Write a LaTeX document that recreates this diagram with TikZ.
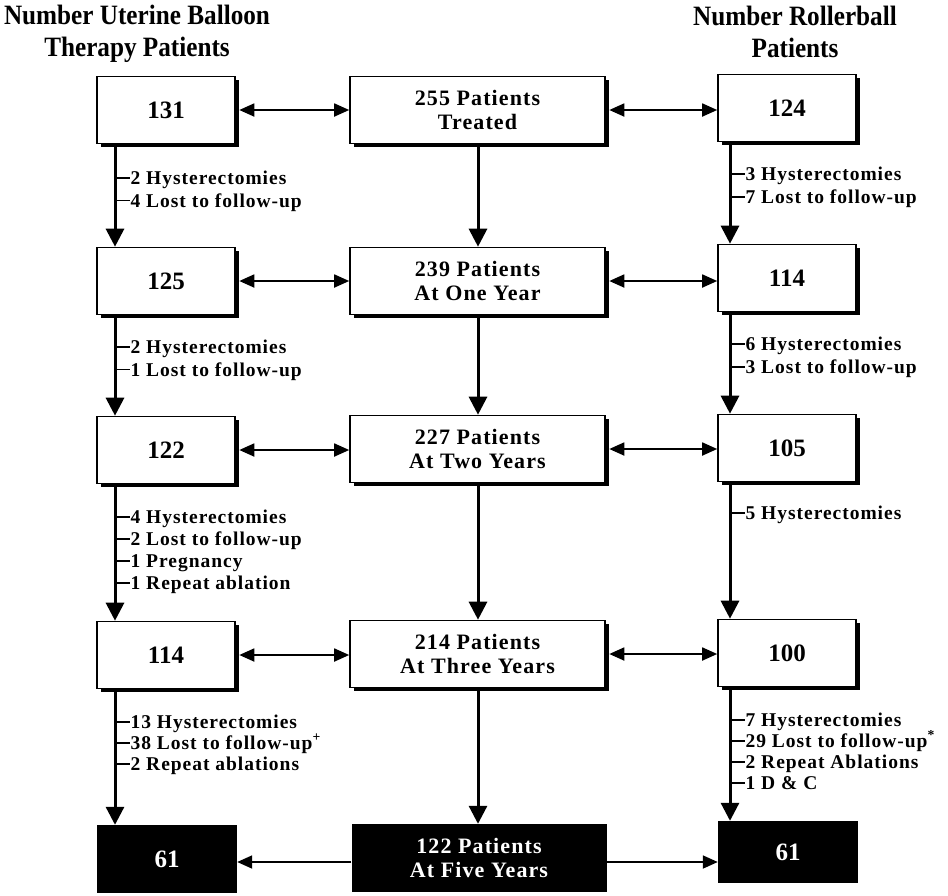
\documentclass[tikz,border=0pt]{standalone}
\usepackage{fontspec}
\setmainfont{Liberation Serif}
\newfontfamily\spaced{Liberation Serif}[LetterSpace=5]
\newfontfamily\narrow{Liberation Serif}[FakeStretch=0.9]
\usetikzlibrary{arrows.meta,shadows}
\tikzset{
  box/.style={draw, line width=1.6pt, fill=white, minimum width=138pt, minimum height=67pt,
    inner sep=0pt, general shadow={fill=black, shadow xshift=3.5pt, shadow yshift=-3.5pt},
    font=\bfseries\fontsize{25}{26}\selectfont},
  widebox/.style={box, minimum width=255pt, align=center,
    font=\spaced\bfseries\fontsize{22}{24}\selectfont},
  blackbox/.style={fill=black, text=white, minimum width=140pt, minimum height=68pt, inner sep=0pt,
    font=\bfseries\fontsize{25}{26}\selectfont},
  blackwide/.style={blackbox, minimum width=255pt, align=center,
    font=\spaced\bfseries\fontsize{22}{24}\selectfont},
  header/.style={align=center, inner sep=0pt, font=\narrow\bfseries\fontsize{28}{32}\selectfont},
  varrow/.style={line width=3pt, -{Triangle[length=18pt,width=18pt]}},
  harrow/.style={line width=1.8pt, {Triangle[length=15pt,width=13pt]}-{Triangle[length=15pt,width=13pt]}},
  sarrow/.style={line width=1.8pt, -{Triangle[length=15pt,width=13pt]}},
  ticklike/.style={line width=1.3pt},
  lbl/.style={font=\spaced\bfseries\fontsize{19.5}{21}\selectfont, inner sep=0pt, anchor=base west, yshift=-6.5pt}
}
\newcommand\outcomes[5]{%
  \foreach \txt [count=\i] in {#5} {
    \coordinate (#4t\i) at (#1, {#2+#3*(\i-1)});
    \draw[ticklike] (#4t\i) -- ++(15,0) node[lbl] (#4\i) {\txt};
  }}
\begin{document}
\begin{tikzpicture}[x=1pt,y=-1pt]
\useasboundingbox (0,0) rectangle (948,895);

% headers
\node[header] (hl) at (137,34) {Number Uterine Balloon\\Therapy Patients};
\node[header] (hr) at (795,32) {Number Rollerball\\Patients};

% left column
\node[box] (l1) at (166,110) {131};
\node[box] (l2) at (166,281) {125};
\node[box] (l3) at (166,450) {122};
\node[box] (l4) at (166,655) {114};
\node[blackbox] (l5) at (167,859) {61};

% center column
\node[widebox] (c1) at (477.5,110) {255 Patients\\Treated};
\node[widebox] (c2) at (477.5,281) {239 Patients\\At One Year};
\node[widebox] (c3) at (477.5,449) {227 Patients\\At Two Years};
\node[widebox] (c4) at (477.5,654) {214 Patients\\At Three Years};
\node[blackwide] (c5) at (479,858) {122 Patients\\At Five Years};

% right column
\node[box] (r1) at (787,108) {124};
\node[box] (r2) at (787,278) {114};
\node[box] (r3) at (787,448) {105};
\node[box] (r4) at (787,653) {100};
\node[blackbox, minimum height=62pt] (r5) at (788,852) {61};

\coordinate (lx) at (115,0);
\coordinate (cx) at (478,0);
\coordinate (rx) at (730,0);

% vertical arrows
\foreach \a/\b in {1/2,2/3,3/4,4/5} {
  \draw[varrow] ([yshift=-3pt]l\a.south -| lx) -- (l\b.north -| lx);
  \draw[varrow] ([yshift=-3pt]c\a.south -| cx) -- (c\b.north -| cx);
  \draw[varrow] ([yshift=-3pt]r\a.south -| rx) -- (r\b.north -| rx);
}

% horizontal arrows
\foreach \k in {1,2,3,4} {
  \draw[harrow, shorten <=3.5pt] (l\k.east) -- (l\k.east -| c\k.west);
  \draw[harrow, shorten <=3.5pt] (c\k.east) -- (c\k.east -| r\k.west);
}
\draw[sarrow] ([yshift=-4pt]c5.west) -- ([yshift=-4pt]c5.west -| l5.east);
\draw[sarrow] ([yshift=-4pt]c5.east) -- ([yshift=-4pt]c5.east -| r5.west);

% outcome labels, left
\outcomes{115}{178}{22.5}{la}{2 Hysterectomies, 4 Lost to follow-up}
\outcomes{115}{347}{22.5}{lb}{2 Hysterectomies, 1 Lost to follow-up}
\outcomes{115}{517}{22}{lc}{4 Hysterectomies, 2 Lost to follow-up, 1 Pregnancy, 1 Repeat ablation}
\outcomes{115}{722}{21}{ld}{13 Hysterectomies, 38 Lost to follow-up\textsuperscript{+}, 2 Repeat ablations}

% outcome labels, right
\outcomes{730}{174}{23}{ra}{3 Hysterectomies, 7 Lost to follow-up}
\outcomes{730}{344}{23}{rb}{6 Hysterectomies, 3 Lost to follow-up}
\outcomes{730}{513}{22}{rc}{5 Hysterectomies}
\outcomes{730}{720}{21}{rd}{7 Hysterectomies, 29 Lost to follow-up\textsuperscript{*}, 2 Repeat Ablations, 1 D \& C}
\end{tikzpicture}
\end{document}
